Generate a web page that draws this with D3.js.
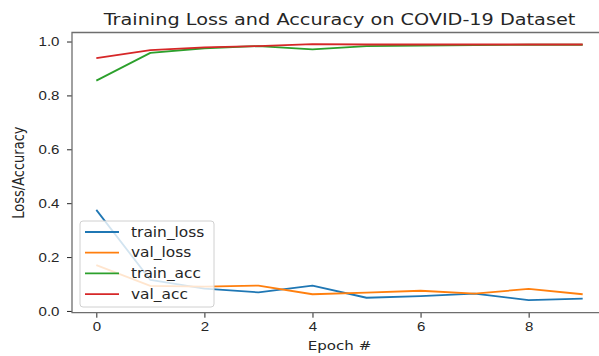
<!DOCTYPE html>
<html>
<head>
<meta charset="utf-8">
<script src="https://cdn.jsdelivr.net/npm/d3@7"></script>
<style>
  body { margin: 0; background: #fff; }
  svg { display: block; font-family: "DejaVu Sans", sans-serif; }
</style>
</head>
<body>
<div id="chart"></div>
<script>
// data
var epochs = [0, 1, 2, 3, 4, 5, 6, 7, 8, 9];
var trainLoss = [0.375, 0.115, 0.083, 0.069, 0.094, 0.049, 0.055, 0.064, 0.040, 0.046];
var valLoss = [0.170, 0.093, 0.090, 0.094, 0.062, 0.068, 0.075, 0.064, 0.082, 0.062];
var trainAcc = [0.855, 0.958, 0.975, 0.983, 0.971, 0.983, 0.985, 0.987, 0.988, 0.988];
var valAcc = [0.938, 0.968, 0.978, 0.983, 0.990, 0.989, 0.989, 0.989, 0.989, 0.989];
var seriesNames = ["train_loss", "val_loss", "train_acc", "val_acc"];
var seriesColors = ["#1f77b4", "#ff7f0e", "#2ca02c", "#d62728"];
var xTicks = [0, 2, 4, 6, 8];
var yTicks = [0.0, 0.2, 0.4, 0.6, 0.8, 1.0];

var svgWidth = 599;
var svgHeight = 356;

// the original picture is a bit wider than tall, so text gets stretched sideways
var sx = 1.16;
var textColor = "#262626";
var spineColor = "#6e6e6e";

// plot box (right edge falls outside the picture, like the original crop)
var plot = { left: 72, right: 607, top: 32.5, bottom: 312.7 };

var svg = d3.select("#chart")
  .append("svg")
  .attr("width", svgWidth)
  .attr("height", svgHeight);

var x = d3.scaleLinear()
  .domain([-0.45, 9.45])
  .range([plot.left, plot.right]);

var y = d3.scaleLinear()
  .domain([-0.0065, 1.0335])
  .range([plot.bottom, plot.top]);

var allSeries = [trainLoss, valLoss, trainAcc, valAcc];

// lines
var line = d3.line()
  .x((d, i) => x(epochs[i]))
  .y(d => y(d));

svg.append("g")
  .selectAll("path")
  .data(allSeries)
  .enter()
  .append("path")
  .attr("d", d => line(d))
  .attr("fill", "none")
  .attr("stroke", (d, i) => seriesColors[i])
  .attr("stroke-width", 1.8)
  .attr("stroke-linejoin", "round");

// axes
var bottomAxis = d3.axisBottom(x)
  .tickValues(xTicks)
  .tickFormat(d3.format("d"))
  .tickSize(5)
  .tickPadding(4);

var leftAxis = d3.axisLeft(y)
  .tickValues(yTicks)
  .tickFormat(d3.format(".1f"))
  .tickSize(5)
  .tickPadding(5);

var xAxis = svg.append("g")
  .attr("transform", `translate(0, ${plot.bottom})`)
  .call(bottomAxis);

var yAxis = svg.append("g")
  .attr("transform", `translate(${plot.left}, 0)`)
  .call(leftAxis);

[xAxis, yAxis].forEach(function (ax) {
  ax.select(".domain").remove();
  ax.selectAll(".tick line").attr("stroke", textColor).attr("stroke-width", 1);
  ax.selectAll(".tick text")
    .attr("fill", textColor)
    .style("font-size", "13px");
});

xAxis.selectAll(".tick text")
  .attr("transform", `scale(${sx},1)`);

yAxis.selectAll(".tick text")
  .attr("x", null)
  .attr("transform", `translate(-12.5,0) scale(${sx},1)`);

// spines
svg.append("path")
  .attr("d", `M${plot.left},${plot.bottom}V${plot.top}H${plot.right}V${plot.bottom}Z`)
  .attr("fill", "none")
  .attr("stroke", spineColor)
  .attr("stroke-width", 1.3);

// title and axis labels
var midX = (plot.left + plot.right) / 2;

svg.append("text")
  .attr("transform", `translate(${midX}, 25) scale(${sx},1)`)
  .attr("text-anchor", "middle")
  .attr("fill", textColor)
  .style("font-size", "16.6px")
  .text("Training Loss and Accuracy on COVID-19 Dataset");

svg.append("text")
  .attr("transform", `translate(${midX}, 350) scale(${sx},1)`)
  .attr("text-anchor", "middle")
  .attr("fill", textColor)
  .style("font-size", "13px")
  .text("Epoch #");

svg.append("text")
  .attr("transform", `translate(24, ${(plot.top + plot.bottom) / 2}) scale(${sx},1) rotate(-90)`)
  .attr("text-anchor", "middle")
  .attr("fill", textColor)
  .style("font-size", "13px")
  .text("Loss/Accuracy");

// legend
var legend = svg.append("g")
  .attr("transform", "translate(80, 221)");

legend.append("rect")
  .attr("width", 134)
  .attr("height", 86)
  .attr("rx", 3)
  .attr("fill", "#fff")
  .attr("fill-opacity", 0.8)
  .attr("stroke", "#d0d0d0")
  .attr("stroke-width", 1);

var items = legend.selectAll("g.item")
  .data(seriesNames)
  .enter()
  .append("g")
  .attr("class", "item")
  .attr("transform", (d, i) => `translate(0, ${11 + i * 20.7})`);

items.append("line")
  .attr("x1", 5)
  .attr("x2", 39)
  .attr("stroke", (d, i) => seriesColors[i])
  .attr("stroke-width", 1.8);

items.append("text")
  .attr("transform", `translate(51, 0) scale(${sx},1)`)
  .attr("dy", "0.35em")
  .attr("fill", textColor)
  .style("font-size", "13.3px")
  .text(d => d);
</script>
</body>
</html>
